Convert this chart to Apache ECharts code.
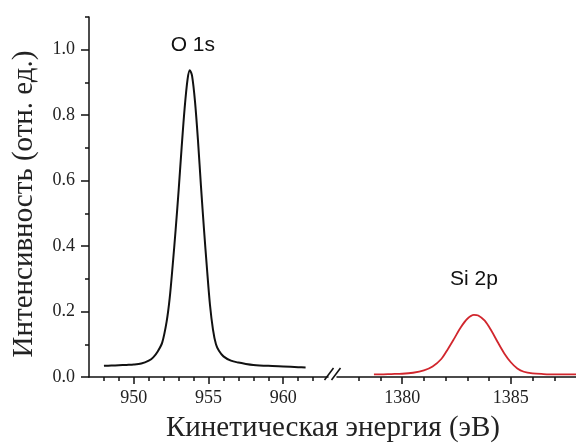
<!DOCTYPE html>
<html>
<head>
<meta charset="utf-8">
<style>
  html, body { margin: 0; padding: 0; background: #fff; }
  #chart { width: 576px; height: 443px; }
</style>
<script src="https://cdn.jsdelivr.net/npm/echarts@6/dist/echarts.min.js"></script>
</head>
<body>
<div id="chart"></div>
<script>
// O 1s peak (kinetic energy, eV / intensity)
const o1sEnergy = [948.0, 948.5, 949.0, 949.5, 950.0, 950.5, 951.0, 951.3, 951.6, 951.9,
  952.2, 952.4, 952.6, 952.8, 953.0, 953.2, 953.4, 953.6, 953.75, 953.9,
  954.1, 954.3, 954.5, 954.7, 954.9, 955.1, 955.3, 955.5, 955.7, 956.0,
  956.5, 957.0, 957.5, 958.0, 959.0, 960.0, 961.0, 961.5];
const o1sIntensity = [0.034, 0.035, 0.036, 0.037, 0.038, 0.041, 0.050, 0.060, 0.078, 0.105,
  0.170, 0.240, 0.340, 0.450, 0.570, 0.700, 0.820, 0.910, 0.937, 0.920,
  0.840, 0.720, 0.580, 0.450, 0.330, 0.220, 0.145, 0.100, 0.080, 0.063,
  0.050, 0.044, 0.040, 0.037, 0.034, 0.032, 0.030, 0.029];

// Si 2p peak
const si2pEnergy = [1378.7, 1379.0, 1379.5, 1380.0, 1380.5, 1381.0, 1381.4, 1381.8, 1382.1, 1382.4,
  1382.7, 1383.0, 1383.3, 1383.5, 1383.8, 1384.1, 1384.4, 1384.7, 1385.0, 1385.3,
  1385.6, 1386.0, 1386.5, 1387.0, 1388.0];
const si2pIntensity = [0.008, 0.008, 0.009, 0.010, 0.013, 0.020, 0.032, 0.055, 0.085, 0.118,
  0.152, 0.178, 0.190, 0.188, 0.172, 0.142, 0.106, 0.072, 0.045, 0.026,
  0.016, 0.011, 0.009, 0.008, 0.008];

// tick values
const yMajor = [0, 0.2, 0.4, 0.6, 0.8, 1.0];
const yMinor = [0.1, 0.3, 0.5, 0.7, 0.9, 1.1];
const leftMajor = [950, 955, 960];
const leftMinor = [948, 949, 951, 952, 953, 954, 956, 957, 958, 959, 961, 962];
const rightMajor = [1380, 1385];
const rightMinor = [1378, 1379, 1381, 1382, 1383, 1384, 1386, 1387];

const peakNames = ['O 1s', 'Si 2p'];
const peakLabelPos = [[953.95, 1.015], [1383.3, 0.30]];

const chart = echarts.init(document.getElementById('chart'), null, { renderer: 'canvas' });

const serif = '"Liberation Serif", "Times New Roman", serif';
const tickRich = { t: { color: '#222', fontSize: 18, fontFamily: serif } };
const lineStyle = { color: '#111', width: 1.5 };

function majorX(gridIndex, min, max, ticks) {
  return {
    type: 'value', gridIndex, min, max, position: 'bottom',
    axisLine: { show: true, onZero: false, lineStyle },
    axisTick: { show: true, length: 7, customValues: ticks, lineStyle },
    axisLabel: {
      show: true, customValues: ticks, margin: 12,
      color: '#222', fontSize: 18, fontFamily: serif,
      formatter: (v) => '{t|' + String(v) + '}', rich: tickRich,
    },
    splitLine: { show: false },
  };
}

function minorX(gridIndex, min, max, ticks) {
  return {
    type: 'value', gridIndex, min, max, position: 'bottom',
    axisLine: { show: false, onZero: false },
    axisTick: { show: true, length: 4, customValues: ticks, lineStyle },
    axisLabel: { show: false },
    splitLine: { show: false },
  };
}

chart.setOption({
  animation: false,
  backgroundColor: '#fff',
  textStyle: { fontFamily: serif, fontSize: 18, color: '#222' },
  grid: [
    { left: 89, top: 17, width: 239, bottom: 66 },
    { left: 337, top: 17, right: 0, bottom: 66 },
  ],
  xAxis: [
    majorX(0, 947, 963, leftMajor),
    minorX(0, 947, 963, leftMinor),
    majorX(1, 1377, 1388, rightMajor),
    minorX(1, 1377, 1388, rightMinor),
  ],
  yAxis: [
    {
      type: 'value', gridIndex: 0, min: 0, max: 1.1, position: 'left',
      axisLine: { show: true, onZero: false, lineStyle },
      axisTick: { show: true, length: 8, customValues: yMajor, lineStyle },
      axisLabel: {
        show: true, customValues: yMajor, margin: 14,
        color: '#222', fontSize: 18, fontFamily: serif,
        formatter: (v) => '{t|' + v.toFixed(1) + '}', rich: tickRich,
      },
      splitLine: { show: false },
    },
    { type: 'value', gridIndex: 1, min: 0, max: 1.1, show: false },
    {
      type: 'value', gridIndex: 0, min: 0, max: 1.1, position: 'left',
      axisLine: { show: false, onZero: false },
      axisTick: { show: true, length: 4, customValues: yMinor, lineStyle },
      axisLabel: { show: false },
      splitLine: { show: false },
    },
  ],
  series: [
    {
      name: peakNames[0], type: 'line', xAxisIndex: 0, yAxisIndex: 0,
      data: o1sEnergy.map((x, i) => [x, o1sIntensity[i]]),
      showSymbol: false, smooth: 0.3,
      lineStyle: { color: '#111', width: 2 },
    },
    {
      name: peakNames[1], type: 'line', xAxisIndex: 2, yAxisIndex: 1,
      data: si2pEnergy.map((x, i) => [x, si2pIntensity[i]]),
      showSymbol: false, smooth: 0.3,
      lineStyle: { color: '#d1262d', width: 1.8 },
    },
  ],
});

// annotations: peak names, axis titles, axis break marks
const p1 = chart.convertToPixel({ xAxisIndex: 0, yAxisIndex: 0 }, peakLabelPos[0]);
const p2 = chart.convertToPixel({ xAxisIndex: 2, yAxisIndex: 1 }, peakLabelPos[1]);
const leftEnd = chart.convertToPixel({ xAxisIndex: 0, yAxisIndex: 0 }, [963, 0]);
const rightStart = chart.convertToPixel({ xAxisIndex: 2, yAxisIndex: 1 }, [1377, 0]);
const peakFont = '21px "Liberation Sans", Arial, sans-serif';
const titleFont = '29px ' + serif;

function slash(cx, cy) {
  return {
    type: 'line',
    shape: { x1: cx - 4.5, y1: cy + 6, x2: cx + 4.5, y2: cy - 6 },
    style: { stroke: '#111', lineWidth: 1.5 },
  };
}

chart.setOption({
  graphic: [
    { type: 'text', x: p1[0], y: p1[1], style: { text: peakNames[0], font: peakFont, fill: '#111', align: 'center', verticalAlign: 'middle' } },
    { type: 'text', x: p2[0], y: p2[1], style: { text: peakNames[1], font: peakFont, fill: '#111', align: 'center', verticalAlign: 'middle' } },
    { type: 'text', x: 24, y: 204, rotation: Math.PI / 2, style: { text: 'Интенсивность (отн. ед.)', font: titleFont, fill: '#222', align: 'center', verticalAlign: 'middle' } },
    { type: 'text', x: 333, y: 428, style: { text: 'Кинетическая энергия (эВ)', font: titleFont, fill: '#222', align: 'center', verticalAlign: 'middle' } },
    { type: 'rect', shape: { x: leftEnd[0] + 1, y: leftEnd[1] - 3, width: rightStart[0] - leftEnd[0] - 1, height: 6 }, style: { fill: '#fff' } },
    slash(leftEnd[0] + 1, leftEnd[1] - 3),
    slash(leftEnd[0] + 8, leftEnd[1] - 3),
  ],
});
</script>
</body>
</html>
